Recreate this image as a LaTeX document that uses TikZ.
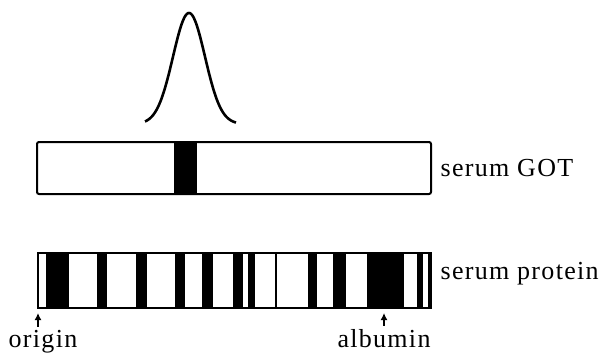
\documentclass[tikz,border=0pt]{standalone}
\usepackage{fontspec}
\setmainfont{Liberation Serif}[LetterSpace=5]
\usetikzlibrary{arrows.meta}
\tikzset{>={Latex[length=3.5pt, width=3.5pt]}}
\newcommand{\lbl}{\fontsize{13}{15}\selectfont}

\begin{document}
\begin{tikzpicture}[x=.5pt, y=-.5pt, line width=1pt]
    \useasboundingbox (0, 0) rectangle (604, 354);
    % peak above the GOT band
    \draw[line width=1.3pt, domain=145:236, samples=90] plot(\x, {124-111*exp(-0.5*((\x-189)/16)^2)});
    % serum GOT
    \draw[rounded corners=1pt] (37, 142) rectangle (431, 194);
    \fill (174, 142) rectangle (197, 194);
    \node[anchor=base west, font=\lbl] (got) at (433, 176) {serum GOT};
    % serum protein
    \draw (38, 253) rectangle (431, 308);
    \foreach \a/\b in {46/69, 97/107, 136/147, 175/185, 202/213, 233/243, 248/255, 275/277, 308/317, 333/346, 367/404, 417/423, 428/431}
        \fill (\a, 253) rectangle (\b, 308);
    \node[anchor=base west, font=\lbl] (prot) at (433, 279) {serum protein};
    \node[anchor=base, font=\lbl, inner sep=1pt] (origin) at (43, 347) {origin};
    \node[anchor=base, font=\lbl, inner sep=1pt] (albumin) at (384, 347) {albumin};
    \coordinate (o) at (38, 313);
    \coordinate (alb) at (384, 313);
    \draw[->, line width=.8pt] (origin.north -| o) -- (o);
    \draw[->, line width=.8pt] (albumin.north) -- (alb);
\end{tikzpicture}
\end{document}
